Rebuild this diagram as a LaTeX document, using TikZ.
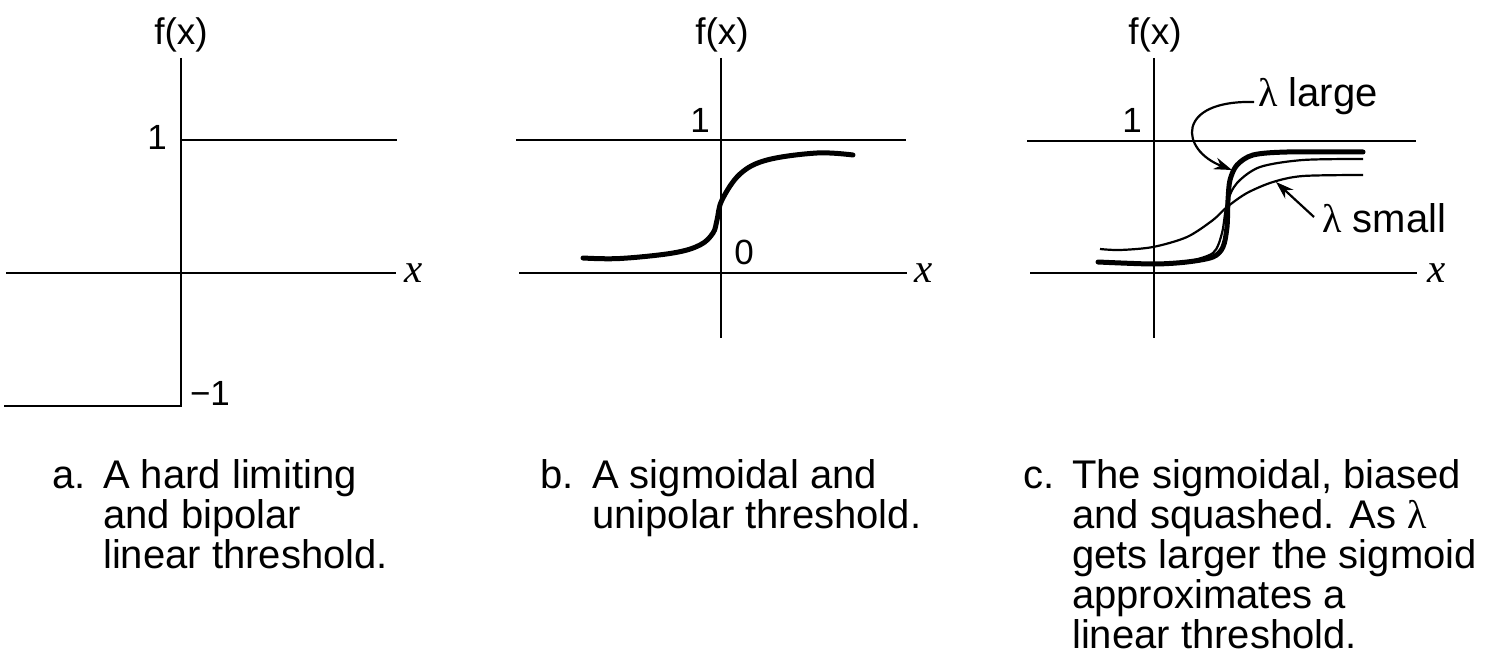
\documentclass[tikz,border=0pt]{standalone}
\usepackage{fontspec}
\setmainfont{Liberation Sans}
\newfontfamily\serif{Liberation Serif}
\usetikzlibrary{arrows.meta}
\begin{document}
\begin{tikzpicture}[x=1pt,y=-1pt,
  axis/.style={line width=2.6pt},
  bigcurve/.style={line width=5pt, line cap=round},
  thincurve/.style={line width=2.2pt},
  lbl/.style={inner sep=0pt, font=\fontsize{35}{40}\selectfont},
  fx/.style={inner sep=0pt, font=\fontsize{37}{40}\selectfont},
  xlbl/.style={inner sep=0pt, anchor=base, font=\fontsize{41}{40}\selectfont\serif\itshape},
  captext/.style={inner sep=0pt, anchor=base west, font=\fontsize{40}{40}\selectfont},
  lam/.style={inner sep=0pt, anchor=base west, font=\fontsize{40}{40}\selectfont},
  tip/.style={-{Stealth[length=18pt,width=12pt]}, line width=2.2pt}
]
\useasboundingbox (0,0) rectangle (1486,658);
\fill[white] (0,0) rectangle (1486,658);

% ---------- panel a ----------
\draw[axis] (181,58) -- (181,406) -- (4,406);
\draw[axis] (181,140) -- (397,140);
\draw[axis] (6,273) -- (396,273);
\node[fx] (fa) at (181,35) {f(x)};
\node[lbl] (a1) at (157,137) {1};
\node[lbl] (am1) at (210,393) {−1};
\node[xlbl] (ax) at (414,282) {x};

% ---------- panel b ----------
\draw[axis] (721,58) -- (721,338);
\draw[axis] (516,140) -- (906,140);
\draw[axis] (519,273) -- (907,273);
\node[fx] (fb) at (722,35) {f(x)};
\node[lbl] (b1) at (700,120) {1};
\node[lbl] (b0) at (744,252) {0};
\node[xlbl] (bx) at (924,282) {x};
\draw[bigcurve] plot[smooth, tension=0.6] coordinates {(583,258) (620,258.5) (673,253) (700,245) (713,233) (717,220) (722,200) (740,174) (767,160) (817,153) (853,155)};

% ---------- panel c ----------
\draw[axis] (1154,58) -- (1154,338);
\draw[axis] (1027,141) -- (1416,141);
\draw[axis] (1030,273) -- (1417,273);
\node[fx] (fc) at (1155,35) {f(x)};
\node[lbl] (c1) at (1132,120) {1};
\node[xlbl] (cx) at (1437,282) {x};
\draw[bigcurve] plot[smooth, tension=0.5] coordinates {(1098,262) (1153,264) (1187,262) (1213,257) (1223,247) (1227,227) (1228,200) (1230,180) (1237,165) (1253,155) (1287,152) (1363,152)};
\draw[thincurve] plot[smooth, tension=0.5] coordinates {(1187,262) (1213,253) (1222,233) (1227,203) (1237,183) (1260,167) (1303,160) (1363,159)};
\draw[thincurve] plot[smooth, tension=0.5] coordinates {(1100,249) (1120,250) (1153,247) (1187,237) (1213,220) (1227,207) (1247,193) (1273,182) (1303,176) (1363,175)};

\node[lam] (lg) at (1258,107) {{\serif λ} large};
\coordinate (lgtip) at (1232,170);
\draw[tip] ([xshift=-4pt,yshift=5pt]lg.base west) .. controls (1175,100) and (1180,150) .. (lgtip);

\node[lam] (sm) at (1322,232) {{\serif λ} small};
\coordinate (smtip) at (1276,182);
\draw[tip] ([xshift=-8pt,yshift=15pt]sm.base west) -- (smtip);

% ---------- captions ----------
\node[captext] (ca) at (52,488) {a.};
\node[captext] (cat) at (103,488) {\vtop{\hbox{A hard limiting}\hbox{and bipolar}\hbox{linear threshold.}}};
\node[captext] (cb) at (540,488) {b.};
\node[captext] (cbt) at (592,488) {\vtop{\hbox{A sigmoidal and}\hbox{unipolar threshold.}}};
\node[captext] (cc) at (1023,488) {c.};
\node[captext] (cct) at (1072,488) {\vtop{\hbox{The sigmoidal, biased}\hbox{and squashed. As {\serif λ}}\hbox{gets larger the sigmoid}\hbox{approximates a}\hbox{linear threshold.}}};
\end{tikzpicture}
\end{document}
